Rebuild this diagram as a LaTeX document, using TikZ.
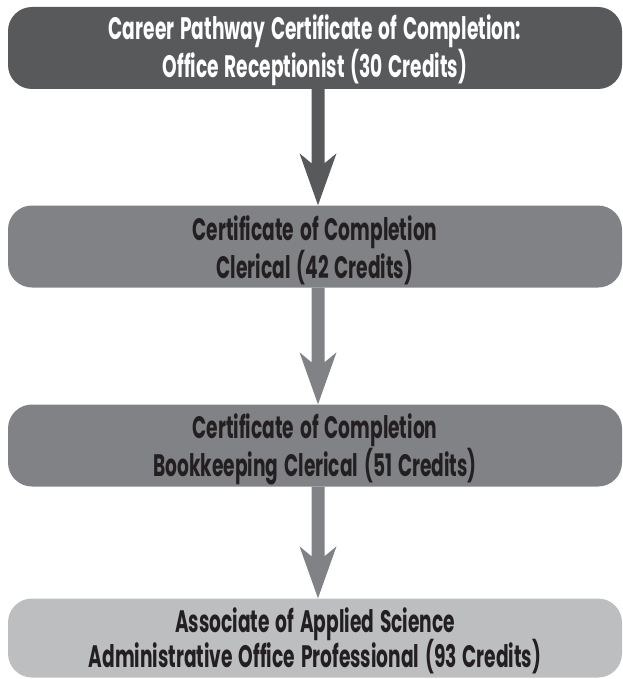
\documentclass[tikz,border=0pt]{standalone}
\usepackage{fontspec}
\setmainfont{Poppins}[FakeStretch=0.6, WordSpace=1.5]
\usetikzlibrary{calc}
\definecolor{darkgrey}{HTML}{58595B}
\definecolor{midgrey}{HTML}{808285}
\definecolor{lightgrey}{HTML}{BCBEC0}
\definecolor{ink}{HTML}{231F20}
\tikzset{
  stagebox/.style={rounded corners=24pt, minimum width=614pt, minimum height=82pt,
    inner sep=0pt},
  stagetext/.style={align=center, inner sep=0pt, yshift=-4pt,
    font=\fontsize{31}{35}\selectfont\bfseries, text=ink},
}
% flow arrow: shaft from the lower edge of #1 to a swept-back head touching #2
\newcommand\flowarrow[3]{%
  \fill[#3] ($(#1.south)+(-3.5,0)$) -- ($(#2.north)+(-3.5,-42)$) -- ($(#2.north)+(-15.5,-52)$)
    -- ($(#2.north)+(3,0)$) -- ($(#2.north)+(21.5,-52)$) -- ($(#2.north)+(9.5,-42)$)
    -- ($(#1.south)+(9.5,0)$) -- cycle;}
\begin{document}
\begin{tikzpicture}[x=1pt,y=-1pt]
  \useasboundingbox (0,0) rectangle (622,679);
  % stage boxes
  \node[stagebox, fill=darkgrey] (s1) at (315,48) {};
  \node[stagebox, fill=midgrey] (s2) at (315,246.5) {};
  \node[stagebox, fill=midgrey] (s3) at (315,445.5) {};
  \node[stagebox, fill=lightgrey, minimum height=79pt] (s4) at (315,638) {};
  % stage titles
  \node[stagetext, text=white, yshift=2pt] (t1) at (s1.center)
    {Career Pathway Certificate of Completion:\\Office Receptionist (30 Credits)};
  \node[stagetext] (t2) at (s2.center)
    {Certificate of Completion\\Clerical (42 Credits)};
  \node[stagetext] (t3) at (s3.center)
    {Certificate of Completion\\Bookkeeping Clerical (51 Credits)};
  % last title sits on its lower baseline, close to the box edge
  \node[stagetext, anchor=base, yshift=4pt] (t4) at ([yshift=-69pt]s4.north)
    {Associate of Applied Science\\\smash{Administrative Office Professional (93 Credits)}};
  % arrows between stages
  \flowarrow{s1}{s2}{darkgrey}
  \flowarrow{s2}{s3}{midgrey}
  \flowarrow{s3}{s4}{midgrey}
\end{tikzpicture}
\end{document}
